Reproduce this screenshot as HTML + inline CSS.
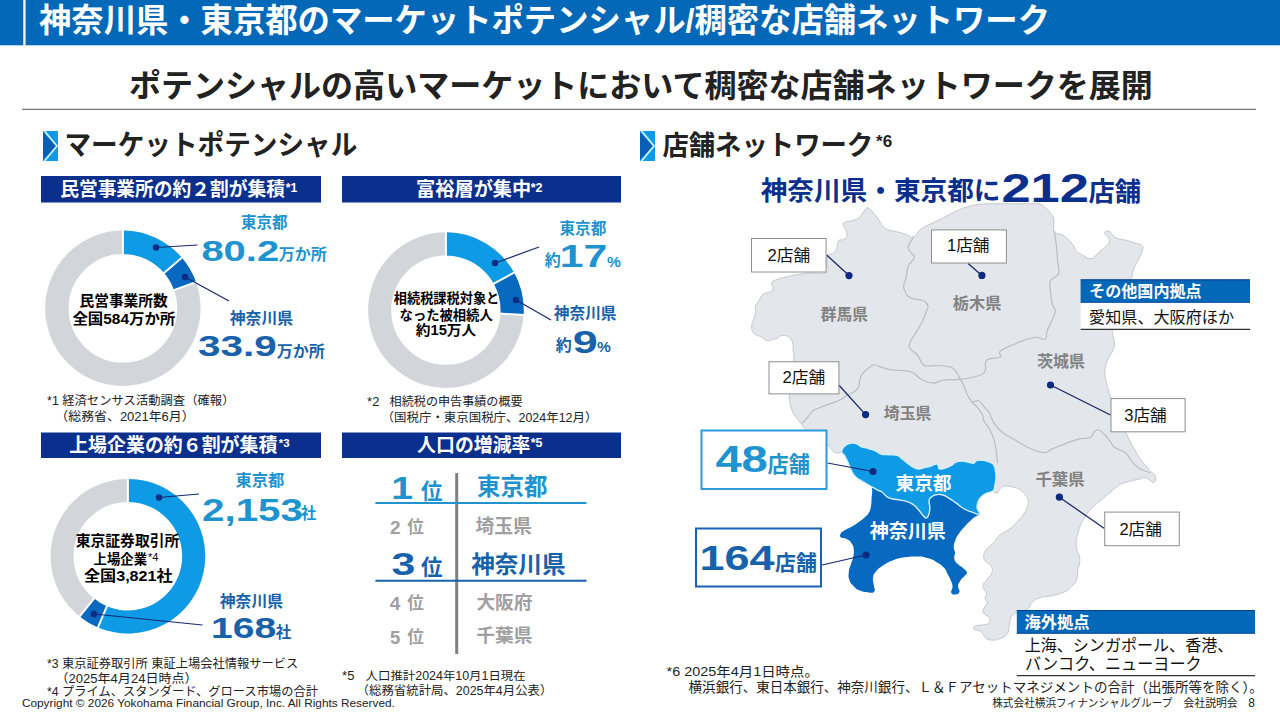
<!DOCTYPE html>
<html lang="ja"><head><meta charset="utf-8"><title>神奈川県・東京都のマーケットポテンシャル/稠密な店舗ネットワーク</title>
<style>
html,body{margin:0;padding:0;background:#fff}
body{width:1280px;height:720px;position:relative;overflow:hidden;font-family:"Liberation Sans","Noto Sans CJK JP",sans-serif}
svg{position:absolute;left:0;top:0;display:block}
svg text{font-family:"Liberation Sans","Noto Sans CJK JP",sans-serif}
path{vector-effect:non-scaling-stroke}
.tl{position:absolute;left:0;top:0;width:1280px;height:720px;overflow:hidden;color:transparent;pointer-events:none}
.tl span{position:absolute;white-space:nowrap;line-height:1.2;color:transparent}
</style></head><body>
<svg width="1280" height="720" viewBox="0 0 1280 720">
<rect x="0" y="0" width="1280" height="45.3" fill="#0368b8"/>
<rect x="23.2" y="0" width="2.4" height="45.3" fill="#eaf4ff"/>
<text x="39" y="31.6" font-size="32.7" font-weight="700" fill="#fff" textLength="1011" lengthAdjust="spacingAndGlyphs">神奈川県・東京都のマーケットポテンシャル/稠密な店舗ネットワーク</text>
<text x="128.9" y="96.8" font-size="32.2" font-weight="700" fill="#222" textLength="1024" lengthAdjust="spacingAndGlyphs">ポテンシャルの高いマーケットにおいて稠密な店舗ネットワークを展開</text>
<path d="M22 109.3L1256 109.3" stroke="#555" stroke-width="1" fill="none"/>
<rect x="43" y="131" width="15" height="30" fill="#0e9ae4"/>
<path d="M43 132L55.5 146L43 160Z" fill="#0a5eb6"/>
<path d="M44.5 131L57 146L44.5 161" fill="none" stroke="#dff3ff" stroke-width="1.6" stroke-linejoin="miter" stroke-linecap="round"/>
<rect x="640" y="131" width="15" height="30" fill="#0e9ae4"/>
<path d="M640 132L652.5 146L640 160Z" fill="#0a5eb6"/>
<path d="M641.5 131L654 146L641.5 161" fill="none" stroke="#dff3ff" stroke-width="1.6" stroke-linejoin="miter" stroke-linecap="round"/>
<text x="64.5" y="155.1" font-size="28" font-weight="700" fill="#222" textLength="292.8" lengthAdjust="spacingAndGlyphs">マーケットポテンシャル</text>
<text x="662.4" y="155.4" font-size="27.5" font-weight="700" fill="#222" textLength="210.8" lengthAdjust="spacingAndGlyphs">店舗ネットワーク</text>
<text x="876.1" y="147.1" font-size="17" font-weight="700" fill="#222">*6</text>
<rect x="41" y="176" width="280" height="26.5" fill="#0b2f8c"/>
<rect x="41" y="432.5" width="280" height="25.5" fill="#0b2f8c"/>
<rect x="342" y="176" width="279" height="26.5" fill="#0b2f8c"/>
<rect x="342" y="432.5" width="279" height="25.5" fill="#0b2f8c"/>
<text x="60.2" y="195.8" font-size="18.8" font-weight="700" fill="#fff" textLength="224.7" lengthAdjust="spacingAndGlyphs">民営事業所の約２割が集積</text>
<text x="285.8" y="191.5" font-size="12.2" font-weight="700" fill="#fff">*1</text>
<text x="416.1" y="195.9" font-size="19.2" font-weight="700" fill="#fff">富裕層が集中</text>
<text x="530.7" y="191.5" font-size="12.5" font-weight="700" fill="#fff">*2</text>
<text x="69.2" y="452.3" font-size="19" font-weight="700" fill="#fff" textLength="208.2" lengthAdjust="spacingAndGlyphs">上場企業の約６割が集積</text>
<text x="278.8" y="447.3" font-size="11.5" font-weight="700" fill="#fff">*3</text>
<text x="417.1" y="452.3" font-size="18.9" font-weight="700" fill="#fff">人口の増減率</text>
<text x="530.7" y="447.3" font-size="12.5" font-weight="700" fill="#fff">*5</text>
<circle cx="122.9" cy="308.3" r="66" fill="none" stroke="#d2d5da" stroke-width="23.4"/>
<path d="M122.9 230.6A77.7 77.7 0 0 1 181.9 257.73L164.13 272.96A54.3 54.3 0 0 0 122.9 254Z" fill="#0e9ae4"/>
<path d="M181.9 257.73A77.7 77.7 0 0 1 196.05 282.11L174.02 290A54.3 54.3 0 0 0 164.13 272.96Z" fill="#0769bf"/>
<path d="M122.9 255L122.9 229.6" stroke="#fff" stroke-width="2" fill="none"/>
<path d="M163.37 273.61L182.65 257.08" stroke="#fff" stroke-width="2" fill="none"/>
<path d="M173.08 290.33L196.99 281.77" stroke="#fff" stroke-width="2" fill="none"/>
<path d="M156 247.5L197.5 245" stroke="#17296f" stroke-width="1.2" fill="none"/>
<path d="M185 277L229 301" stroke="#17296f" stroke-width="1.2" fill="none"/>
<circle cx="156" cy="247.5" r="3.2" fill="#0b2a80"/>
<circle cx="185" cy="277" r="3.2" fill="#0b2a80"/>
<text x="241" y="228.3" font-size="15.5" font-weight="700" fill="#2093cf">東京都</text>
<text x="201.4" y="261" font-size="30" font-weight="700" fill="#2093cf" stroke="#fff" stroke-width="0.9" stroke-linejoin="round" paint-order="stroke" textLength="77.8" lengthAdjust="spacingAndGlyphs">80.2</text>
<text x="278.7" y="260.4" font-size="16" font-weight="700" fill="#2093cf">万か所</text>
<text x="229.8" y="323.5" font-size="15.8" font-weight="700" fill="#1762ab">神奈川県</text>
<text x="198.1" y="356.3" font-size="29.5" font-weight="700" fill="#1762ab" stroke="#fff" stroke-width="0.9" stroke-linejoin="round" paint-order="stroke" textLength="78.8" lengthAdjust="spacingAndGlyphs">33.9</text>
<text x="276.7" y="357" font-size="16" font-weight="700" fill="#1762ab">万か所</text>
<text x="79.5" y="306" font-size="14.7" font-weight="700" fill="#000">民営事業所数</text>
<text x="72.4" y="323.5" font-size="14.6" font-weight="700" fill="#000" textLength="102.9" lengthAdjust="spacingAndGlyphs">全国584万か所</text>
<text x="47.1" y="405.4" font-size="12.2" fill="#222" textLength="187.4" lengthAdjust="spacingAndGlyphs">*1 経済センサス活動調査（確報）</text>
<text x="55.3" y="421.3" font-size="12.5" fill="#222" textLength="139.3" lengthAdjust="spacingAndGlyphs">（総務省、2021年6月）</text>
<circle cx="445.9" cy="310.1" r="66.25" fill="none" stroke="#d2d5da" stroke-width="23.1"/>
<path d="M445.9 232.3A77.8 77.8 0 0 1 514.08 272.62L493.83 283.75A54.7 54.7 0 0 0 445.9 255.4Z" fill="#0e9ae4"/>
<path d="M514.08 272.62A77.8 77.8 0 0 1 523.55 314.99L500.49 313.53A54.7 54.7 0 0 0 493.83 283.75Z" fill="#0769bf"/>
<path d="M445.9 256.4L445.9 231.3" stroke="#fff" stroke-width="2" fill="none"/>
<path d="M492.96 284.23L514.95 272.14" stroke="#fff" stroke-width="2" fill="none"/>
<path d="M499.49 313.47L524.54 315.05" stroke="#fff" stroke-width="2" fill="none"/>
<path d="M495 263L539 247" stroke="#17296f" stroke-width="1.2" fill="none"/>
<path d="M516 300L551 320" stroke="#17296f" stroke-width="1.2" fill="none"/>
<circle cx="495" cy="263" r="3.2" fill="#0b2a80"/>
<circle cx="516" cy="300" r="3.2" fill="#0b2a80"/>
<text x="559.5" y="233.7" font-size="15.6" font-weight="700" fill="#2093cf">東京都</text>
<text x="544.7" y="266.1" font-size="16" font-weight="700" fill="#2093cf">約</text>
<text x="559.7" y="267" font-size="32" font-weight="700" fill="#2093cf" stroke="#fff" stroke-width="0.9" stroke-linejoin="round" paint-order="stroke" textLength="47.5" lengthAdjust="spacingAndGlyphs">17</text>
<text x="607" y="266.8" font-size="15.5" font-weight="700" fill="#2093cf">%</text>
<text x="553.8" y="318.5" font-size="15.7" font-weight="700" fill="#1762ab">神奈川県</text>
<text x="555.7" y="351.1" font-size="16" font-weight="700" fill="#1762ab">約</text>
<text x="572.7" y="352.5" font-size="31" font-weight="700" fill="#1762ab" stroke="#fff" stroke-width="0.9" stroke-linejoin="round" paint-order="stroke" textLength="25" lengthAdjust="spacingAndGlyphs">9</text>
<text x="597" y="352.3" font-size="15.5" font-weight="700" fill="#1762ab">%</text>
<text x="393.8" y="302.7" font-size="13.2" font-weight="700" fill="#000">相続税課税対象と</text>
<text x="399.6" y="320.3" font-size="13.5" font-weight="700" fill="#000" textLength="93.1" lengthAdjust="spacingAndGlyphs">なった被相続人</text>
<text x="415.8" y="335.4" font-size="13.8" font-weight="700" fill="#000" textLength="60.4" lengthAdjust="spacingAndGlyphs">約15万人</text>
<text x="367.1" y="406" font-size="13" fill="#222">*2</text>
<text x="389.6" y="406" font-size="12.1" fill="#222">相続税の申告事績の概要</text>
<text x="381.6" y="421.8" font-size="12.1" fill="#222" textLength="215.8" lengthAdjust="spacingAndGlyphs">（国税庁・東京国税庁、2024年12月）</text>
<circle cx="127.9" cy="556.2" r="65.8" fill="none" stroke="#d2d5da" stroke-width="23"/>
<path d="M127.9 478.9A77.3 77.3 0 1 1 97.95 627.46L106.86 606.26A54.3 54.3 0 1 0 127.9 501.9Z" fill="#0e9ae4"/>
<path d="M97.95 627.46A77.3 77.3 0 0 1 79.57 616.53L93.95 598.58A54.3 54.3 0 0 0 106.86 606.26Z" fill="#0769bf"/>
<path d="M127.9 502.9L127.9 477.9" stroke="#fff" stroke-width="2" fill="none"/>
<path d="M107.25 605.34L97.56 628.38" stroke="#fff" stroke-width="2" fill="none"/>
<path d="M94.57 597.8L78.94 617.31" stroke="#fff" stroke-width="2" fill="none"/>
<path d="M159 497.5L199 494" stroke="#17296f" stroke-width="1.2" fill="none"/>
<path d="M94 614L202.5 625" stroke="#17296f" stroke-width="1.2" fill="none"/>
<circle cx="159" cy="497.5" r="3.2" fill="#0b2a80"/>
<circle cx="94" cy="614" r="3.2" fill="#0b2a80"/>
<text x="235.5" y="486.2" font-size="16.3" font-weight="700" fill="#2093cf">東京都</text>
<text x="202" y="520.7" font-size="32" font-weight="700" fill="#2093cf" stroke="#fff" stroke-width="0.9" stroke-linejoin="round" paint-order="stroke" textLength="101" lengthAdjust="spacingAndGlyphs">2,153</text>
<text x="300.8" y="519.3" font-size="15.5" font-weight="700" fill="#2093cf">社</text>
<text x="219.8" y="606.6" font-size="15.8" font-weight="700" fill="#1762ab">神奈川県</text>
<text x="211" y="637.6" font-size="30" font-weight="700" fill="#1762ab" stroke="#fff" stroke-width="0.9" stroke-linejoin="round" paint-order="stroke" textLength="65.2" lengthAdjust="spacingAndGlyphs">168</text>
<text x="275.8" y="638.2" font-size="15.5" font-weight="700" fill="#1762ab">社</text>
<text x="75.7" y="546.1" font-size="14.8" font-weight="700" fill="#000">東京証券取引所</text>
<text x="93.6" y="564.1" font-size="13.4" font-weight="700" fill="#000">上場企業</text>
<text x="148.1" y="561" font-size="11" fill="#000">*4</text>
<text x="83.9" y="581" font-size="14.4" font-weight="700" fill="#000" textLength="88.8" lengthAdjust="spacingAndGlyphs">全国3,821社</text>
<text x="47.1" y="668" font-size="12.2" fill="#222" textLength="251.1" lengthAdjust="spacingAndGlyphs">*3 東京証券取引所 東証上場会社情報サービス</text>
<text x="55.4" y="682.8" font-size="12.4" fill="#222" textLength="142.3" lengthAdjust="spacingAndGlyphs">（2025年4月24日時点）</text>
<text x="47.1" y="696" font-size="12.4" fill="#222" textLength="270.8" lengthAdjust="spacingAndGlyphs">*4 プライム、スタンダード、グロース市場の合計</text>
<text x="21.9" y="706.5" font-size="11" fill="#222" textLength="373" lengthAdjust="spacingAndGlyphs">Copyright © 2026 Yokohama Financial Group, Inc. All Rights Reserved.</text>
<path d="M456.7 473L456.7 654" stroke="#808080" stroke-width="3" fill="none"/>
<path d="M375.4 503L586.5 503" stroke="#2093cf" stroke-width="2" fill="none"/>
<path d="M375.4 580.8L586.5 580.8" stroke="#1762ab" stroke-width="2" fill="none"/>
<text x="391.2" y="499" font-size="32" font-weight="700" fill="#2093cf" stroke="#fff" stroke-width="0.9" stroke-linejoin="round" paint-order="stroke" textLength="21.8" lengthAdjust="spacingAndGlyphs">1</text>
<text x="420.9" y="499.2" font-size="21.5" font-weight="700" fill="#2093cf">位</text>
<text x="477.1" y="494.9" font-size="23.5" font-weight="700" fill="#2093cf">東京都</text>
<text x="389.9" y="533.7" font-size="19" font-weight="700" fill="#a0a0a0">2</text>
<text x="407.3" y="532.9" font-size="16.6" font-weight="700" fill="#a0a0a0">位</text>
<text x="475.4" y="532.9" font-size="18.8" font-weight="700" fill="#a0a0a0">埼玉県</text>
<text x="391.6" y="574.8" font-size="32" font-weight="700" fill="#1762ab" stroke="#fff" stroke-width="0.9" stroke-linejoin="round" paint-order="stroke" textLength="23.8" lengthAdjust="spacingAndGlyphs">3</text>
<text x="420.9" y="575.4" font-size="21.5" font-weight="700" fill="#1762ab">位</text>
<text x="471.2" y="573.4" font-size="23.6" font-weight="700" fill="#1762ab">神奈川県</text>
<text x="389.8" y="609.5" font-size="19" font-weight="700" fill="#a0a0a0">4</text>
<text x="407.3" y="609.3" font-size="16.6" font-weight="700" fill="#a0a0a0">位</text>
<text x="476.4" y="608.5" font-size="18.7" font-weight="700" fill="#a0a0a0">大阪府</text>
<text x="390.1" y="643.6" font-size="18.5" font-weight="700" fill="#a0a0a0">5</text>
<text x="407.3" y="643.1" font-size="16.6" font-weight="700" fill="#a0a0a0">位</text>
<text x="476.3" y="642.4" font-size="18.7" font-weight="700" fill="#a0a0a0">千葉県</text>
<text x="342.1" y="679.8" font-size="13" fill="#222">*5</text>
<text x="365.6" y="680.4" font-size="11.9" fill="#222" textLength="160.1" lengthAdjust="spacingAndGlyphs">人口推計2024年10月1日現在</text>
<text x="356.6" y="695.3" font-size="12.1" fill="#222" textLength="195.8" lengthAdjust="spacingAndGlyphs">（総務省統計局、2025年4月公表）</text>
<text x="760.7" y="200.3" font-size="26.7" font-weight="700" fill="#0b2f8c" textLength="239.8" lengthAdjust="spacingAndGlyphs">神奈川県・東京都に</text>
<text x="1001.4" y="201.8" font-size="41" font-weight="700" fill="#0b2f8c" stroke="#fff" stroke-width="0.6" stroke-linejoin="round" paint-order="stroke" textLength="87.6" lengthAdjust="spacingAndGlyphs">212</text>
<text x="1088.5" y="200.5" font-size="26.3" font-weight="700" fill="#0b2f8c">店舗</text>
<path d="M866.9 208.1C868.7 207.3 868 207.9 870 209.4C872 210.9 872.1 210.9 874.4 213.8C876.7 216.6 876.6 216.8 878.8 220C880.9 223.2 880.3 223.1 882.5 225.6C884.7 228.1 883.9 227.9 886.9 229.4C889.9 230.9 890.3 230.4 893.8 231.2C897.2 232.1 896.3 231.5 900 232.5C903.7 233.5 903.8 233.8 907.5 235C911.2 236.2 910.1 238.6 913.8 236.9C917.4 235.2 916.2 232.4 921.2 228.8C926.2 225.1 926.5 226.1 932.5 223.1C938.5 220.1 937.4 220.7 943.8 217.5C950.1 214.3 949.9 214.1 956.2 211.2C962.6 208.4 961.2 208.7 967.5 206.9C973.8 205.1 972.7 205.2 980 204.4C987.3 203.6 986.3 203.9 995 203.8C1003.7 203.6 1002.8 203.8 1012.5 203.8C1022.2 203.8 1023.6 203.6 1031.2 203.8C1038.9 203.9 1037.2 203.1 1041.2 204.4C1045.2 205.7 1043.6 206.3 1046.2 208.8C1048.9 211.2 1049.2 210.8 1051.2 213.8C1053.2 216.8 1053.2 216.3 1053.8 220C1054.3 223.7 1053.2 224.2 1053.5 227.5C1053.8 230.8 1052.6 230.5 1055 232.5C1057.4 234.5 1058.8 233 1062.5 235C1066.2 237 1065.8 237 1068.8 240C1071.8 243 1071.8 243.2 1073.8 246.2C1075.8 249.2 1073.9 248.9 1076.2 251.2C1078.6 253.6 1078.8 253 1082.5 255C1086.2 257 1086.7 258.4 1090 258.8C1093.3 259.1 1092.3 258.2 1095 256.2C1097.7 254.2 1097 253.9 1100 251.2C1103 248.6 1103.7 248.9 1106.2 246.2C1108.8 243.6 1108.9 243.6 1109.4 241.2C1109.9 238.9 1109.3 239.5 1108.1 237.5C1106.9 235.5 1105.5 235.4 1105 233.8C1104.5 232.1 1104.9 231.7 1106.2 231.2C1107.6 230.8 1108 230.6 1110 231.9C1112 233.2 1111.4 234.4 1113.8 236.2C1116.1 238.1 1115.1 237.6 1118.8 238.8C1122.4 239.9 1123.2 239.4 1127.5 240.6C1131.8 241.8 1131.2 241.8 1135 243.1C1138.8 244.4 1139.9 243.8 1141.9 245.6C1143.9 247.4 1143 247.2 1142.5 250C1142 252.8 1141.7 252.6 1140 256.2C1138.3 259.9 1138.1 259.8 1136.2 263.8C1134.4 267.8 1134.4 267.2 1133.1 271.2C1131.8 275.2 1133.1 273.2 1131.2 278.8C1129.4 284.3 1129 284.2 1126 292C1123 299.8 1122.9 300.5 1120 308C1117.1 315.5 1117 314.3 1115 320C1113 325.7 1113 325.1 1112.5 329.4C1112 333.7 1112.6 332.4 1113.1 336.2C1113.6 340.1 1114.6 339.8 1114.4 343.8C1114.2 347.8 1114.2 347.2 1112.5 351.2C1110.8 355.2 1109.9 354.8 1108.1 358.8C1106.3 362.8 1106.4 362.2 1105.6 366.2C1104.8 370.2 1104.8 369.8 1105 373.8C1105.2 377.8 1105.4 377.2 1106.2 381.2C1107.1 385.2 1107.1 385.1 1108.1 388.8C1109.1 392.4 1109.2 392.5 1110 395C1110.8 397.5 1109.7 394.1 1111.2 398.1C1112.8 402.1 1113.4 403.6 1116 410C1118.6 416.4 1118.3 415.8 1121 422C1123.7 428.2 1123.8 428 1126.2 433.1C1128.7 438.2 1127.7 436.7 1130 441.2C1132.3 445.8 1132.3 445.3 1135 450C1137.7 454.7 1137 454.4 1140 458.8C1143 463.1 1143.2 462.7 1146.2 466.2C1149.2 469.8 1149.1 469.7 1151.2 471.9C1153.4 474.1 1153.2 472.6 1154.4 474.4C1155.6 476.2 1155.9 476.6 1155.6 478.8C1155.3 480.9 1154.8 482.2 1153.1 482.5C1151.4 482.8 1151.6 481.3 1149.4 480C1147.2 478.7 1147.5 477.8 1145 477.5C1142.5 477.2 1143.3 477.9 1140 478.8C1136.7 479.6 1136.5 479.6 1132.5 480.6C1128.5 481.6 1129 481 1125 482.5C1121 484 1121.5 483.6 1117.5 486.2C1113.5 488.9 1114.4 488.8 1110 492.5C1105.6 496.2 1105.7 496 1101 500C1096.3 504 1096.4 503.5 1092.5 507.5C1088.6 511.5 1089.2 510.7 1086.2 515C1083.2 519.3 1083.4 519.1 1081.2 523.8C1079.1 528.4 1079.4 527.8 1078.1 532.5C1076.8 537.2 1076.6 536.6 1076.2 541.2C1075.9 545.9 1076.1 546 1076.9 550C1077.7 554 1078.7 552.6 1079.4 556.2C1080.1 559.9 1079.9 559.8 1079.4 563.8C1078.9 567.7 1078.2 566.8 1077.5 571C1076.8 575.2 1078.2 575.4 1076.7 579.5C1075.2 583.6 1075.1 583.2 1071.7 586.5C1068.3 589.8 1069.2 589.6 1064 592C1058.8 594.4 1058.6 594.1 1052.2 595.6C1045.8 597.1 1045.3 596 1040 597.8C1034.7 599.6 1035.2 599.5 1032.2 602.2C1029.2 604.9 1031.6 605.5 1028.9 607.8C1026.2 610.1 1026.2 609.2 1022 611C1017.8 612.8 1016.5 611.7 1013.3 614.4C1010.1 617.1 1011.2 617.5 1010 621.1C1008.8 624.7 1009.8 624.3 1008.9 627.8C1008 631.3 1009.4 631.4 1006.7 634.4C1004 637.4 1003.1 637.4 998.9 638.9C994.7 640.4 994.6 640.3 991.1 640C987.6 639.7 988 639.6 985.6 637.8C983.2 636 984 635.2 982.2 633.3C980.4 631.4 981 631.6 978.9 630.6C976.8 629.6 975.7 630.3 974.4 629.4C973.1 628.5 973.3 628.2 973.9 627.2C974.5 626.2 973.6 626.3 976.7 625.6C979.8 624.9 982.2 625.3 985.6 624.4C989 623.5 988.4 624 989.4 622.2C990.4 620.4 990.6 619.9 989.4 617.8C988.2 615.7 986.8 616.2 985 614.4C983.2 612.6 982.8 613.2 982.8 611.1C982.8 609 983.8 609.1 985 606.7C986.2 604.3 987.2 604.6 987.2 602.2C987.2 599.8 985.1 600.2 985 597.8C984.9 595.4 987 595.7 986.7 593.3C986.4 590.9 984.8 591.3 983.9 588.9C983 586.5 982.3 587.1 983.3 584.4C984.3 581.7 985.2 581.9 987.5 578.8C989.8 575.6 990.9 575.8 991.9 572.5C992.9 569.2 992.9 569.2 991.2 566.2C989.6 563.2 987.6 563.9 985.6 561.2C983.6 558.6 983.6 559.2 983.8 556.2C983.9 553.2 983.6 553.7 986.2 550C988.9 546.3 990.1 546.5 993.8 542.5C997.4 538.5 995.7 538.7 1000 535C1004.3 531.3 1005.3 532.4 1010 528.8C1014.7 525.1 1013.8 525.2 1017.5 521.2C1021.2 517.2 1021.1 517.8 1023.8 513.8C1026.4 509.8 1026.3 509.9 1027.5 506.2C1028.7 502.6 1028.6 503 1028.1 500C1027.6 497 1027.4 497.5 1025.5 495C1023.6 492.5 1023.8 492.5 1021 490.5C1018.2 488.5 1019.3 488.7 1015 487.5C1010.7 486.3 1009 485.6 1005 486C1001 486.4 1002.4 487.1 1000 489C997.6 490.9 999.2 493.3 996 493C992.8 492.7 997.6 492 988 488C978.4 484 983.5 482.3 960 478C936.5 473.7 926.1 475.7 900 472C873.9 468.3 875.3 468 862 464C848.7 460 855.1 460.1 850 457C844.9 453.9 847 453.7 843 452.5C839 451.3 839.1 454.5 835 452.5C830.9 450.5 832.8 449.4 827.5 445C822.2 440.6 821.2 440.5 815 436C808.8 431.5 808.1 431.4 804.4 428.1C800.7 424.8 803.4 426.6 801.2 423.8C799.1 420.9 798.7 421.2 796.2 417.5C793.8 413.8 793.6 414 791.9 410C790.2 406 790.7 406.2 790 402.5C789.3 398.8 789.1 402.2 789.4 396.2C789.7 390.2 789.8 389.5 791 380C792.2 370.5 793.2 368.6 793.8 360.6C794.3 352.6 793.3 354.2 793.1 350C792.9 345.8 793.6 347.8 793.1 345C792.6 342.2 792.7 341.7 791.2 339.4C789.8 337.1 790.2 337.3 787.5 336.2C784.8 335.2 783.9 335.1 781.2 335.6C778.6 336.1 779.8 337.1 777.5 338.1C775.2 339.1 775.3 338.7 772.5 339.4C769.7 340.1 769.9 341.3 766.9 340.6C763.9 339.9 764.1 338.4 761.2 336.9C758.4 335.4 758.6 336.5 756.2 335C753.9 333.5 753.7 333.9 752.5 331.2C751.3 328.6 751.6 328.3 751.9 325C752.2 321.7 752.8 322.1 753.8 318.8C754.7 315.4 755.1 315.8 755.6 312.5C756.1 309.2 754.6 309.6 755.6 306.2C756.6 302.9 757.4 303.2 759.4 300C761.4 296.8 760.3 296.6 763.1 294.4C765.9 292.2 767.3 293.4 770 291.9C772.7 290.4 772.6 291.3 773.1 288.8C773.6 286.2 770.7 285 771.9 282.5C773.1 280 773.7 280.9 777.5 279.4C781.3 277.9 781.6 278.1 786.2 276.9C790.9 275.7 788.7 276 795 275C801.3 274 801.7 273.8 810 273.1C818.3 272.4 821.7 274.9 826.2 272.5C830.8 270.1 826.7 268.5 827 264C827.3 259.5 826 258.3 827.5 255.6C829 252.9 830.2 255.2 832.5 253.8C834.8 252.3 834.9 252.3 836.2 250C837.6 247.7 836.8 247.5 837.5 245C838.2 242.5 837.1 242.1 838.8 240.6C840.4 239.1 841.6 240.6 843.8 239.4C845.9 238.2 846.2 238.4 846.9 236.2C847.6 234.1 847.1 233.9 846.2 231.2C845.4 228.6 844.2 228.6 843.8 226.2C843.3 223.9 842.1 224 844.4 222.5C846.7 221 848.5 221.9 852.5 220.6C856.5 219.3 856.6 219.7 859.4 217.5C862.2 215.3 861.1 215 863.1 212.5C865.1 210 865.1 208.9 866.9 208.1Z" fill="#e3e6ea" stroke="#c4c8cd" stroke-width="1" stroke-linejoin="round" stroke-linecap="round"/>
<path d="M913.8 236.9C912.9 238.3 912 239.3 910.5 242C909 244.7 908.3 244.3 908.3 247C908.3 249.7 908.9 249.4 910.5 252C912.1 254.6 913.8 254.3 914.2 256.7C914.6 259.1 913.5 258.8 912 261C910.5 263.2 910.1 262.3 908.8 265C907.4 267.7 907.7 267.7 907 271C906.3 274.3 907.1 273.8 906.2 277.5C905.4 281.2 904.1 281.4 903.8 285C903.4 288.6 903.3 287.7 905 291C906.7 294.3 904.4 294.4 910 297.5C915.6 300.6 922 297.8 926 302.5C930 307.2 927.3 307.7 925 315C922.7 322.3 921.5 322.7 917.5 330C913.5 337.3 911.8 337.4 910 342.5C908.2 347.6 908.6 345.7 910.6 349C912.6 352.3 914.3 351 917.5 355C920.7 359 919.8 361.1 922.5 364C925.2 366.9 924.4 365.6 927.5 366C930.6 366.4 929.3 365.6 934 365.6C938.7 365.6 940.1 365.4 945 366C949.9 366.6 949.2 365.9 952.5 368C955.8 370.1 955.5 371.1 957.5 374C959.5 376.9 958.3 375.8 960 379C961.7 382.2 962 381.7 964 386C966 390.3 965.2 390.6 967.5 395C969.8 399.4 969.8 399.2 972.5 402.5C975.2 405.8 974.8 404.2 977.5 407.5C980.2 410.8 980.8 411.4 982.5 415C984.2 418.6 982 417 984 421C986 425 987.3 424.9 990 430C992.7 435.1 992.4 434.7 994 440C995.6 445.3 995.1 444 996 450C996.9 456 997.1 459.2 997.5 462.5" fill="none" stroke="#bbbfc5" stroke-width="1.25" stroke-linejoin="round" stroke-linecap="round"/>
<path d="M801.9 423.1C803.4 421.6 804.7 420.7 807.5 417.5C810.3 414.3 809.2 413.9 812.5 411.2C815.8 408.6 815.3 409.5 820 407.5C824.7 405.5 824.7 405.8 830 403.8C835.3 401.8 835.3 402.3 840 400C844.7 397.7 843.5 397.3 847.5 395C851.5 392.7 852 393.6 855 391.2C858 388.9 857.4 389.6 858.8 386.2C860.1 382.9 858.7 382.4 860 378.8C861.3 375.1 861.1 375.7 863.8 372.5C866.4 369.3 867 368.9 870 366.9C873 364.9 871.7 364.8 875 365C878.3 365.2 877.8 366.2 882.5 367.5C887.2 368.8 886.8 369.2 892.5 370C898.2 370.8 898.4 369.9 903.8 370.6C909.1 371.3 907.9 370.3 912.5 372.5C917.1 374.7 915.7 376.2 921 379C926.3 381.8 926.4 382.7 932.5 383C938.6 383.3 936.7 381 944 380C951.3 379 951.1 380.5 960 379.4C968.9 378.3 970.8 378.2 977.5 376C984.2 373.8 982.5 375.3 985 371C987.5 366.7 983 363.7 987 360C991 356.3 996.4 359.4 1000 357C1003.6 354.6 996.6 354.5 1000.6 351C1004.6 347.5 1006.1 347.6 1015 344C1023.9 340.4 1026 338.8 1034 337.5C1042 336.2 1041.4 341 1045 339C1048.6 337 1044.8 337.1 1047.5 330C1050.2 322.9 1053.7 319.2 1055 312.5C1056.3 305.8 1053.7 310.3 1052.5 305C1051.3 299.7 1051.3 298.5 1050.6 292.5C1049.9 286.5 1049.5 286.2 1050 282.5C1050.5 278.8 1050.5 280.8 1052.5 278.8C1054.5 276.8 1055.8 277.3 1057.5 275C1059.2 272.7 1058.8 274 1058.8 270C1058.8 266 1058 265.3 1057.5 260C1057 254.7 1057.4 255.3 1056.9 250C1056.4 244.7 1056.3 245 1055.6 240C1054.9 235 1054.7 233.6 1054.4 231.2" fill="none" stroke="#bbbfc5" stroke-width="1.25" stroke-linejoin="round" stroke-linecap="round"/>
<path d="M972.5 402.5C974.2 402.1 975.7 399.5 979 401C982.3 402.5 982.3 404.9 985 408C987.7 411.1 985.7 407.3 989 412.5C992.3 417.7 990.6 420.2 997.5 427.5C1004.4 434.8 1003.7 433.5 1015 440C1026.3 446.5 1030 449.6 1040 451.9C1050 454.2 1045.8 450.9 1052.5 448.8C1059.2 446.6 1058.3 446.2 1065 443.8C1071.7 441.3 1070.8 441.1 1077.5 439.4C1084.2 437.7 1085.7 439.3 1090 437.5C1094.3 435.7 1091.6 434.5 1093.8 432.5C1095.9 430.5 1095.4 429.7 1098.1 430C1100.8 430.3 1100.6 430.8 1103.8 433.8C1106.9 436.8 1107 437.6 1110 441.2C1113 444.9 1111 444.5 1115 447.5C1119 450.5 1121 449.5 1125 452.5C1129 455.5 1127.3 455.4 1130 458.8C1132.7 462.1 1131.7 462 1135 465C1138.3 468 1138.5 468 1142.5 470C1146.5 472 1148 471.8 1150 472.5" fill="none" stroke="#bbbfc5" stroke-width="1.25" stroke-linejoin="round" stroke-linecap="round"/>
<path d="M872.2 487.2C873.6 486.9 874.6 488.4 877.2 489.8C879.9 491.1 879.9 490.6 882.2 492.2C884.6 493.9 883.7 494.3 886 496C888.3 497.7 887.7 497.5 891 498.5C894.3 499.5 894.2 498.9 898.5 499.8C902.8 500.6 903.2 500.3 907.2 501.6C911.2 502.9 910.5 502.6 913.5 504.8C916.5 506.9 915.8 506.8 918.5 509.8C921.2 512.8 921.3 513.8 923.5 516C925.7 518.2 925.1 518.6 926.6 517.9C928.1 517.2 928.3 516.3 929.1 513.5C929.9 510.7 929.8 510.6 929.8 507.2C929.8 503.9 928.8 503.7 929.1 501C929.4 498.3 929.2 498.9 931 497.2C932.8 495.6 933 495.4 936 494.8C939 494.1 938.9 493.9 942.2 494.8C945.6 495.6 944.8 495.7 948.5 497.9C952.2 500.1 952 500.1 956 502.9C960 505.7 959.2 506 963.5 508.5C967.8 511 967.9 510.8 972.2 512.2C976.6 513.7 978.8 512.9 979.8 514C980.8 515.1 978.3 514.7 976 516.3C973.7 517.9 974.2 517.3 971.2 520C968.3 522.7 968.3 522.6 965 526.2C961.7 529.9 961.4 529.8 958.8 533.8C956.1 537.8 956.3 537.6 955 541.2C953.7 544.9 953.8 544.5 953.8 547.5C953.8 550.5 954.8 549.5 955 552.5C955.2 555.5 953.7 555.8 954.4 558.8C955.1 561.8 955 561.1 957.5 563.8C960 566.4 961.2 566.4 963.8 568.8C966.3 571.1 966.6 570.7 966.9 572.5C967.2 574.3 966.8 573.3 965 575.6C963.2 577.9 961.8 578.4 960 581.2C958.2 584.1 958.3 583.4 958.1 586.2C957.9 589.1 960.2 589.7 959.4 591.9C958.6 594.1 957.2 594.2 955 594.4C952.8 594.6 951.9 594.7 951.2 592.5C950.6 590.3 952.7 589.6 952.5 586.2C952.3 582.9 951.9 583.3 950.6 580C949.3 576.7 949.3 577.1 947.5 573.8C945.7 570.4 946.8 570.7 943.8 567.5C940.8 564.3 940.6 564.4 936.2 561.9C931.9 559.4 932.5 559.5 927.5 558.1C922.5 556.7 923.5 556.7 917.5 556.5C911.5 556.3 911.3 556.3 905 557.2C898.7 558.2 899.4 557.9 893.8 560C888.1 562.1 888.4 562 883.8 565C879.1 568 879.1 567.9 876.2 571.2C873.4 574.6 873.8 573.8 873.1 577.5C872.4 581.2 873.4 581.3 873.8 585C874.1 588.7 875.7 589.2 874.4 591.2C873.1 593.2 872.6 592.7 868.8 592.5C864.9 592.3 864 592.3 860 590.6C856 588.9 856.6 589.1 853.8 586.2C850.9 583.4 850.7 583.7 849.4 580C848.1 576.3 848.4 576.5 848.8 572.5C849.1 568.5 849.4 569 850.6 565C851.8 561 852.3 561.5 853.1 557.5C853.9 553.5 854.1 553.7 853.8 550C853.4 546.3 853.6 546.6 851.9 543.8C850.2 540.9 850.3 541.1 847.5 539.4C844.7 537.7 843.1 539 841.2 537.5C839.4 536 839.6 535.8 840.6 533.8C841.6 531.8 841.8 532 845 530C848.2 528 848.9 528.3 852.5 526.2C856.1 524.2 855.2 524.6 858.5 522.2C861.8 519.9 861.9 519.9 864.8 517.2C867.6 514.6 867.4 515.2 869.1 512.2C870.8 509.2 870.3 509.7 871 506C871.7 502.3 871.3 502.5 871.6 498.5C871.9 494.5 872.1 494 872.2 491C872.4 488 870.9 487.6 872.2 487.2Z" fill="#0769bf"/>
<path d="M841.6 451.6C841.6 448.9 842.6 448.2 844.8 446C846.9 443.8 846.8 444.2 849.8 443.5C852.8 442.8 853 442.7 856 443.5C859 444.3 857.7 445.3 861 446.6C864.3 447.9 864.5 447.3 868.5 448.5C872.5 449.7 872.7 449.5 876 451C879.3 452.5 877.3 453 881 454C884.7 455 885.4 454.4 889.8 454.8C894.1 455.1 893.9 454.3 897.2 455.4C900.6 456.5 899.6 457 902.2 459C904.9 461 904.6 460.9 907.2 462.9C909.9 464.9 909.2 465 912.2 466.6C915.2 468.2 915.5 468.7 918.5 469C921.5 469.3 920.2 468.7 923.5 467.9C926.8 467.1 927.5 467 931 466C934.5 465 934.6 463.8 936.6 464C938.6 464.2 937.7 465.3 938.5 466.6C939.3 467.9 937.8 468.7 939.8 469C941.8 469.3 942.7 469 946 467.9C949.3 466.8 949.6 466.3 952.2 464.8C954.9 463.2 953.3 463.2 956 462.2C958.7 461.2 958.9 461 962.2 461C965.6 461 965.5 461.7 968.5 462.2C971.5 462.8 971.2 463.7 973.5 463.2C975.8 462.7 974.6 461.1 977.2 460.4C979.9 459.7 980.2 459.9 983.5 460.4C986.8 460.9 986.9 460.9 989.8 462.2C992.6 463.6 992.6 463.1 994.1 465.4C995.6 467.7 994.9 467.6 995.4 471C995.9 474.4 996.2 474 996 478C995.8 482 995.6 482.5 994.8 486C993.9 489.5 995.2 489 992.9 491C990.6 493 989.2 491.8 986 493.5C982.8 495.2 983.2 494.9 981 497.2C978.8 499.6 978.9 499.2 977.9 502.2C976.9 505.2 976.8 505.4 977.2 508.5C977.7 511.6 981.1 513 979.8 514C978.4 515 976.6 513.7 972.2 512.2C967.9 510.8 967.8 511 963.5 508.5C959.2 506 960 505.7 956 502.9C952 500.1 952.2 500.1 948.5 497.9C944.8 495.7 945.6 495.6 942.2 494.8C938.9 493.9 939 494.1 936 494.8C933 495.4 932.8 495.6 931 497.2C929.2 498.9 929.4 498.3 929.1 501C928.8 503.7 929.8 503.9 929.8 507.2C929.8 510.6 929.9 510.7 929.1 513.5C928.3 516.3 928.1 517.2 926.6 517.9C925.1 518.6 925.7 518.2 923.5 516C921.3 513.8 921.2 512.8 918.5 509.8C915.8 506.8 916.5 506.9 913.5 504.8C910.5 502.6 911.2 502.9 907.2 501.6C903.2 500.3 902.8 500.6 898.5 499.8C894.2 498.9 894.3 499.5 891 498.5C887.7 497.5 888.3 497.7 886 496C883.7 494.3 884.6 493.9 882.2 492.2C879.9 490.6 879.9 491.1 877.2 489.8C874.6 488.4 875.2 488.9 872.2 487.2C869.2 485.6 869.3 485.5 866 483.5C862.7 481.5 862.8 481.8 859.8 479.8C856.8 477.8 857.1 478.7 854.8 476C852.4 473.3 852.8 473.4 851 469.8C849.2 466.1 849.6 465.9 847.9 462.2C846.2 458.6 846.4 458.8 844.8 456C843.1 453.2 841.6 454.3 841.6 451.6Z" fill="#0e9ae4" stroke="#d4efff" stroke-width="1.4" stroke-linejoin="round" stroke-linecap="round"/>
<text x="820.8" y="319.6" font-size="15.7" font-weight="700" fill="#828282">群馬県</text>
<text x="952.8" y="308.5" font-size="16.2" font-weight="700" fill="#828282">栃木県</text>
<text x="1037.2" y="366.5" font-size="15.9" font-weight="700" fill="#828282">茨城県</text>
<text x="883.8" y="419.2" font-size="15.9" font-weight="700" fill="#828282">埼玉県</text>
<text x="1035.4" y="484.6" font-size="16.4" font-weight="700" fill="#828282">千葉県</text>
<text x="895.5" y="489.6" font-size="18.7" font-weight="700" fill="#fff">東京都</text>
<text x="869.8" y="538.3" font-size="19" font-weight="700" fill="#fff">神奈川県</text>
<path d="M826.6 255L849 275.6" stroke="#17296f" stroke-width="1.3" fill="none"/>
<circle cx="849" cy="275.6" r="3.6" fill="#0b2a80"/>
<rect x="751.5" y="238.5" width="74.6" height="33.5" fill="#fff" stroke="#8e8e8e" stroke-width="1"/>
<text x="767.6" y="260.6" font-size="16" fill="#111" textLength="42.5" lengthAdjust="spacingAndGlyphs">2店舗</text>
<path d="M968.1 263.5L981.9 275.4" stroke="#17296f" stroke-width="1.3" fill="none"/>
<circle cx="981.9" cy="275.4" r="3.6" fill="#0b2a80"/>
<rect x="931.5" y="229.9" width="74.9" height="33.1" fill="#fff" stroke="#8e8e8e" stroke-width="1"/>
<text x="947" y="251.3" font-size="16" fill="#111" textLength="42.5" lengthAdjust="spacingAndGlyphs">1店舗</text>
<path d="M839 385.25L865.6 414.6" stroke="#17296f" stroke-width="1.3" fill="none"/>
<circle cx="865.6" cy="414.6" r="3.6" fill="#0b2a80"/>
<rect x="769" y="361.75" width="69.9" height="32.15" fill="#fff" stroke="#8e8e8e" stroke-width="1"/>
<text x="782.6" y="383.2" font-size="16" fill="#111" textLength="42.5" lengthAdjust="spacingAndGlyphs">2店舗</text>
<path d="M1110.5 415L1050.5 385" stroke="#17296f" stroke-width="1.3" fill="none"/>
<circle cx="1050.5" cy="385" r="3.6" fill="#0b2a80"/>
<rect x="1111" y="398.6" width="74.1" height="33.2" fill="#fff" stroke="#8e8e8e" stroke-width="1"/>
<text x="1124.3" y="421" font-size="16" fill="#111" textLength="42.4" lengthAdjust="spacingAndGlyphs">3店舗</text>
<path d="M1104 528.2L1059.4 497.2" stroke="#17296f" stroke-width="1.3" fill="none"/>
<circle cx="1059.4" cy="497.2" r="3.6" fill="#0b2a80"/>
<rect x="1104.7" y="512.1" width="74.6" height="33.6" fill="#fff" stroke="#8e8e8e" stroke-width="1"/>
<text x="1119.4" y="534.6" font-size="16" fill="#111" textLength="42.3" lengthAdjust="spacingAndGlyphs">2店舗</text>
<path d="M827.5 463L873 471.5" stroke="#17296f" stroke-width="1.2" fill="none"/>
<circle cx="873" cy="471.5" r="3.6" fill="#0b2a80"/>
<rect x="701.5" y="430.5" width="125" height="58.5" fill="#fff" stroke="#2b9bdc" stroke-width="2"/>
<text x="715.4" y="472.4" font-size="37" font-weight="700" fill="#2093cf" stroke="#fff" stroke-width="0.9" stroke-linejoin="round" paint-order="stroke" textLength="52.4" lengthAdjust="spacingAndGlyphs">48</text>
<text x="767.6" y="472.3" font-size="21.1" font-weight="700" fill="#2093cf">店舗</text>
<path d="M822 565L866 555" stroke="#17296f" stroke-width="1.2" fill="none"/>
<circle cx="866" cy="555" r="3.6" fill="#0b2a80"/>
<rect x="696" y="528.5" width="125" height="58" fill="#fff" stroke="#1a60b0" stroke-width="2"/>
<text x="699.5" y="570" font-size="35.5" font-weight="700" fill="#1762ab" stroke="#fff" stroke-width="0.9" stroke-linejoin="round" paint-order="stroke" textLength="75.1" lengthAdjust="spacingAndGlyphs">164</text>
<text x="775.1" y="569.9" font-size="20.9" font-weight="700" fill="#1762ab">店舗</text>
<rect x="1080.6" y="302" width="169.4" height="27" fill="#fff"/>
<rect x="1080.6" y="279.4" width="169.4" height="23.2" fill="#0368b8"/>
<path d="M1080.6 279.9L1250 279.9" stroke="#0a3f8f" stroke-width="1" fill="none"/>
<path d="M1080.6 302.2L1250 302.2" stroke="#0a4a9c" stroke-width="1" fill="none"/>
<path d="M1080.6 329.3L1250 329.3" stroke="#333" stroke-width="1.2" fill="none"/>
<text x="1089.2" y="297.1" font-size="16.2" font-weight="700" fill="#fff" textLength="112.4" lengthAdjust="spacingAndGlyphs">その他国内拠点</text>
<text x="1089.1" y="322.7" font-size="16.2" fill="#111" textLength="144.9" lengthAdjust="spacingAndGlyphs">愛知県、大阪府ほか</text>
<rect x="1016.8" y="632" width="238.2" height="43" fill="#fff"/>
<rect x="1016.8" y="610" width="238.2" height="23.6" fill="#0368b8"/>
<path d="M1016.8 610.5L1255 610.5" stroke="#0a3f8f" stroke-width="1" fill="none"/>
<path d="M1016.8 633.2L1255 633.2" stroke="#0a4a9c" stroke-width="1" fill="none"/>
<path d="M1016.8 675.6L1255 675.6" stroke="#333" stroke-width="1.2" fill="none"/>
<text x="1024.5" y="627.6" font-size="16.3" font-weight="700" fill="#fff">海外拠点</text>
<text x="1024.7" y="651.3" font-size="16.3" fill="#111" textLength="208.6" lengthAdjust="spacingAndGlyphs">上海、シンガポール、香港、</text>
<text x="1025.1" y="670.1" font-size="16.6" fill="#111" textLength="176.5" lengthAdjust="spacingAndGlyphs">バンコク、ニューヨーク</text>
<text x="666.6" y="675.5" font-size="13" fill="#222" textLength="152.2" lengthAdjust="spacingAndGlyphs">*6 2025年4月1日時点。</text>
<text x="688.6" y="691.8" font-size="13.6" fill="#222" textLength="574.3" lengthAdjust="spacingAndGlyphs">横浜銀行、東日本銀行、神奈川銀行、Ｌ＆Ｆアセットマネジメントの合計（出張所等を除く）。</text>
<text x="992.2" y="707" font-size="10.9" fill="#222" textLength="180.2" lengthAdjust="spacingAndGlyphs">株式会社横浜フィナンシャルグループ</text>
<text x="1183.6" y="707" font-size="10.8" fill="#222">会社説明会</text>
<text x="1248.2" y="707.3" font-size="12" fill="#222">8</text>
</svg>
<div class="tl">
<span style="left:39.4px;top:1.3px;font-size:32.9px;font-weight:700">神奈川県・東京都のマーケットポテンシャル/稠密な店舗ネットワーク</span>
<span style="left:129px;top:66px;font-size:33.3px;font-weight:700">ポテンシャルの高いマーケットにおいて稠密な店舗ネットワークを展開</span>
<span style="left:66px;top:127.4px;font-size:30px;font-weight:700">マーケットポテンシャル</span>
<span style="left:663px;top:128px;font-size:29.4px;font-weight:700">店舗ネットワーク</span>
<span style="left:876.5px;top:132.7px;font-size:14.3px;font-weight:700">*6</span>
<span style="left:61px;top:177.7px;font-size:19.4px;font-weight:700">民営事業所の約２割が集積</span>
<span style="left:286px;top:181.3px;font-size:10px;font-weight:700">*1</span>
<span style="left:417.5px;top:177.7px;font-size:19.4px;font-weight:700">富裕層が集中</span>
<span style="left:531px;top:181.3px;font-size:10px;font-weight:700">*2</span>
<span style="left:70px;top:434.2px;font-size:19.4px;font-weight:700">上場企業の約６割が集積</span>
<span style="left:279px;top:437.3px;font-size:10px;font-weight:700">*3</span>
<span style="left:417.5px;top:434.2px;font-size:19.4px;font-weight:700">人口の増減率</span>
<span style="left:531px;top:437.3px;font-size:10px;font-weight:700">*5</span>
<span style="left:241.5px;top:215.3px;font-size:13.9px;font-weight:700">東京都</span>
<span style="left:203.8px;top:236.1px;font-size:24.4px;font-weight:700">80.2</span>
<span style="left:279px;top:246.5px;font-size:14.9px;font-weight:700">万か所</span>
<span style="left:230px;top:309.1px;font-size:15.6px;font-weight:700">神奈川県</span>
<span style="left:200.7px;top:332.2px;font-size:23.7px;font-weight:700">33.9</span>
<span style="left:277px;top:343.5px;font-size:14.6px;font-weight:700">万か所</span>
<span style="left:80px;top:292.2px;font-size:15px;font-weight:700">民営事業所数</span>
<span style="left:72.5px;top:309.1px;font-size:15.6px;font-weight:700">全国584万か所</span>
<span style="left:47.5px;top:394.6px;font-size:11.7px;">*1 経済センサス活動調査（確報）</span>
<span style="left:64px;top:409.5px;font-size:12.8px;">（総務省、2021年6月）</span>
<span style="left:560px;top:219.1px;font-size:15.6px;font-weight:700">東京都</span>
<span style="left:545px;top:250.5px;font-size:16.7px;font-weight:700">約</span>
<span style="left:564px;top:241px;font-size:25px;font-weight:700">17</span>
<span style="left:607.5px;top:253.4px;font-size:13.3px;font-weight:700">%</span>
<span style="left:554px;top:304.1px;font-size:15.6px;font-weight:700">神奈川県</span>
<span style="left:556px;top:335.5px;font-size:16.7px;font-weight:700">約</span>
<span style="left:575px;top:327px;font-size:25px;font-weight:700">9</span>
<span style="left:597.5px;top:338.3px;font-size:13.9px;font-weight:700">%</span>
<span style="left:394px;top:289.3px;font-size:14.4px;font-weight:700">相続税課税対象と</span>
<span style="left:400px;top:307.3px;font-size:13.9px;font-weight:700">なった被相続人</span>
<span style="left:416px;top:323.5px;font-size:12.8px;font-weight:700">約15万人</span>
<span style="left:367.5px;top:394.7px;font-size:11.1px;">*2</span>
<span style="left:390px;top:394.5px;font-size:12.2px;">相続税の申告事績の概要</span>
<span style="left:390px;top:409.4px;font-size:13.3px;">（国税庁・東京国税庁、2024年12月）</span>
<span style="left:236px;top:472.2px;font-size:15px;font-weight:700">東京都</span>
<span style="left:205px;top:492.5px;font-size:31.9px;font-weight:700">2,153</span>
<span style="left:301px;top:505.8px;font-size:14.4px;font-weight:700">社</span>
<span style="left:220px;top:593.3px;font-size:14.4px;font-weight:700">神奈川県</span>
<span style="left:215px;top:612.3px;font-size:24.8px;font-weight:700">168</span>
<span style="left:276px;top:624.2px;font-size:15px;font-weight:700">社</span>
<span style="left:76px;top:532.2px;font-size:15px;font-weight:700">東京証券取引所</span>
<span style="left:94px;top:550.8px;font-size:14.4px;font-weight:700">上場企業</span>
<span style="left:148.5px;top:552.5px;font-size:8.3px;">*4</span>
<span style="left:84px;top:568.3px;font-size:14.4px;font-weight:700">全国3,821社</span>
<span style="left:47.5px;top:656px;font-size:12.8px;">*3 東京証券取引所 東証上場会社情報サービス</span>
<span style="left:64px;top:671px;font-size:12.8px;">（2025年4月24日時点）</span>
<span style="left:47.5px;top:684.5px;font-size:12.2px;">*4 プライム、スタンダード、グロース市場の合計</span>
<span style="left:22.5px;top:695.7px;font-size:13px;">Copyright © 2026 Yokohama Financial Group, Inc. All Rights Reserved.</span>
<span style="left:395.2px;top:472.1px;font-size:25.9px;font-weight:700">1</span>
<span style="left:421.2px;top:476.8px;font-size:23.9px;font-weight:700">位</span>
<span style="left:477.8px;top:474.4px;font-size:22px;font-weight:700">東京都</span>
<span style="left:391.3px;top:517.6px;font-size:15.9px;font-weight:700">2</span>
<span style="left:407.4px;top:515.4px;font-size:18.8px;font-weight:700">位</span>
<span style="left:475.7px;top:515.4px;font-size:18.8px;font-weight:700">埼玉県</span>
<span style="left:394.3px;top:548.3px;font-size:26px;font-weight:700">3</span>
<span style="left:421.2px;top:553px;font-size:23.9px;font-weight:700">位</span>
<span style="left:471.5px;top:551.2px;font-size:23.9px;font-weight:700">神奈川県</span>
<span style="left:390.5px;top:593.6px;font-size:15.7px;font-weight:700">4</span>
<span style="left:407.4px;top:591.8px;font-size:18.8px;font-weight:700">位</span>
<span style="left:477px;top:591.1px;font-size:18.8px;font-weight:700">大阪府</span>
<span style="left:391.3px;top:628.1px;font-size:15.6px;font-weight:700">5</span>
<span style="left:407.4px;top:625.6px;font-size:18.8px;font-weight:700">位</span>
<span style="left:477px;top:625.8px;font-size:17.9px;font-weight:700">千葉県</span>
<span style="left:342.5px;top:668.7px;font-size:11.1px;">*5</span>
<span style="left:366px;top:668.5px;font-size:12.8px;">人口推計2024年10月1日現在</span>
<span style="left:365px;top:683.5px;font-size:12.8px;">（総務省統計局、2025年4月公表）</span>
<span style="left:761px;top:178.1px;font-size:23.9px;font-weight:700">神奈川県・東京都に</span>
<span style="left:1005px;top:166.9px;font-size:33.9px;font-weight:700">212</span>
<span style="left:1089px;top:178.1px;font-size:23.9px;font-weight:700">店舗</span>
<span style="left:821px;top:305.7px;font-size:15px;font-weight:700">群馬県</span>
<span style="left:953px;top:294.1px;font-size:15.6px;font-weight:700">栃木県</span>
<span style="left:1037.5px;top:352.1px;font-size:15.6px;font-weight:700">茨城県</span>
<span style="left:884px;top:405.8px;font-size:14.4px;font-weight:700">埼玉県</span>
<span style="left:1036px;top:470.7px;font-size:15px;font-weight:700">千葉県</span>
<span style="left:896px;top:474px;font-size:16.7px;font-weight:700">東京都</span>
<span style="left:870px;top:521.9px;font-size:17.8px;font-weight:700">神奈川県</span>
<span style="left:768.8px;top:246.5px;font-size:15px;">2店舗</span>
<span style="left:948.8px;top:237.1px;font-size:15.1px;">1店舗</span>
<span style="left:783.8px;top:369.5px;font-size:14.6px;">2店舗</span>
<span style="left:1125.5px;top:407px;font-size:14.9px;">3店舗</span>
<span style="left:1120.6px;top:520.7px;font-size:14.8px;">2店舗</span>
<span style="left:717.5px;top:441.3px;font-size:30.6px;font-weight:700">48</span>
<span style="left:768px;top:453.6px;font-size:20px;font-weight:700">店舗</span>
<span style="left:704px;top:540.5px;font-size:28.9px;font-weight:700">164</span>
<span style="left:775.5px;top:552.8px;font-size:18.3px;font-weight:700">店舗</span>
<span style="left:1090px;top:282.1px;font-size:16.1px;font-weight:700">その他国内拠点</span>
<span style="left:1090px;top:307px;font-size:16.7px;">愛知県、大阪府ほか</span>
<span style="left:1025px;top:612.6px;font-size:16.1px;font-weight:700">海外拠点</span>
<span style="left:1025.5px;top:637.2px;font-size:15px;">上海、シンガポール、香港、</span>
<span style="left:1025.5px;top:655.7px;font-size:15px;">バンコク、ニューヨーク</span>
<span style="left:667px;top:663.5px;font-size:12.8px;">*6 2025年4月1日時点。</span>
<span style="left:689px;top:679.4px;font-size:13.3px;">横浜銀行、東日本銀行、神奈川銀行、Ｌ＆Ｆアセットマネジメントの合計（出張所等を除く）。</span>
<span style="left:992.5px;top:696.1px;font-size:11.7px;">株式会社横浜フィナンシャルグループ</span>
<span style="left:1184px;top:696.1px;font-size:11.7px;">会社説明会</span>
<span style="left:1249px;top:697.3px;font-size:10px;">8</span>
</div>
</body></html>
